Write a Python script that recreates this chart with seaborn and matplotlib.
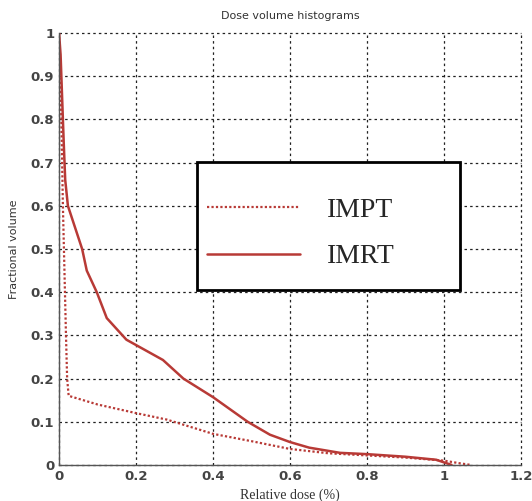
import pandas as pd
import matplotlib.pyplot as plt
import seaborn as sns
from matplotlib.patches import Rectangle

# DVH curves
impt_dose = [0.0, 0.003, 0.006, 0.01, 0.014, 0.018, 0.021, 0.025, 0.1, 0.2, 0.28, 0.4, 0.5, 0.6, 0.7, 0.8, 0.9, 1.0, 1.04, 1.07]
impt_volume = [1.0, 0.9, 0.8, 0.6, 0.45, 0.3, 0.2, 0.16, 0.14, 0.12, 0.105, 0.072, 0.055, 0.037, 0.027, 0.022, 0.017, 0.01, 0.004, 0.0]

imrt_dose = [0.0, 0.004, 0.008, 0.012, 0.016, 0.023, 0.06, 0.072, 0.098, 0.124, 0.175, 0.27, 0.323, 0.4, 0.49, 0.548, 0.6, 0.65, 0.73, 0.8, 0.9, 0.98, 1.0, 1.02]
imrt_volume = [1.0, 0.95, 0.85, 0.75, 0.66, 0.6, 0.5, 0.45, 0.4, 0.34, 0.29, 0.243, 0.2, 0.157, 0.1, 0.07, 0.053, 0.04, 0.028, 0.025, 0.019, 0.012, 0.006, 0.0]

plan_names = ["IMPT", "IMRT"]

df = pd.concat([
    pd.DataFrame({"dose": impt_dose, "volume": impt_volume, "plan": plan_names[0]}),
    pd.DataFrame({"dose": imrt_dose, "volume": imrt_volume, "plan": plan_names[1]}),
])

sns.set_style("white")
fig = plt.figure(figsize=(5.32, 5.01), dpi=100)
ax = fig.add_axes([0.111, 0.072, 0.868, 0.862])

red = "#b83a36"
sns.lineplot(data=df[df["plan"] == "IMPT"], x="dose", y="volume", sort=False,
             color=red, linestyle=(0, (1, 1)), linewidth=1.6, label="IMPT", ax=ax)
sns.lineplot(data=df[df["plan"] == "IMRT"], x="dose", y="volume", sort=False,
             color=red, linewidth=1.8, label="IMRT", ax=ax)

ax.set_xlim(0, 1.2)
ax.set_ylim(0, 1)
ax.set_xticks([0, 0.2, 0.4, 0.6, 0.8, 1, 1.2])
ax.set_xticklabels(["0", "0.2", "0.4", "0.6", "0.8", "1", "1.2"])
ax.set_yticks([0, 0.1, 0.2, 0.3, 0.4, 0.5, 0.6, 0.7, 0.8, 0.9, 1])
ax.set_yticklabels(["0", "0.1", "0.2", "0.3", "0.4", "0.5", "0.6", "0.7", "0.8", "0.9", "1"])
ax.grid(True, color="#222222", linestyle=(0, (2, 2.5)), linewidth=0.9)
for gl in ax.get_xgridlines() + ax.get_ygridlines():
    gl.set_clip_on(False)
ax.tick_params(axis="both", direction="in", length=3, labelsize=9.5, labelcolor="#444444")
for lab in ax.get_xticklabels() + ax.get_yticklabels():
    lab.set_fontweight("bold")

for side in ["top", "right"]:
    ax.spines[side].set_visible(False)
for side in ["left", "bottom"]:
    ax.spines[side].set_color("#555555")
    ax.spines[side].set_linewidth(1.0)

ax.set_title("Dose volume histograms", fontsize=8, color="#333333", pad=10)
ax.set_xlabel("Relative dose (%)", fontsize=10, family="Liberation Serif", color="#333333", labelpad=4)
ax.set_ylabel("Fractional volume", fontsize=8, color="#333333", labelpad=8)

# legend box drawn as its own frame, entries placed inside it
box = Rectangle((0.299, 0.405), 0.569, 0.296, transform=ax.transAxes,
                facecolor="white", edgecolor="black", linewidth=2.0, zorder=5)
ax.add_patch(box)
leg = ax.legend(loc="center left", bbox_to_anchor=(0.29, 0.536), frameon=False,
                prop={"family": "Liberation Serif", "size": 20}, borderpad=0,
                handlelength=3.35, handletextpad=0.97, labelspacing=0.75)
leg.set_zorder(6)

fig.savefig("out.png", dpi=100)
